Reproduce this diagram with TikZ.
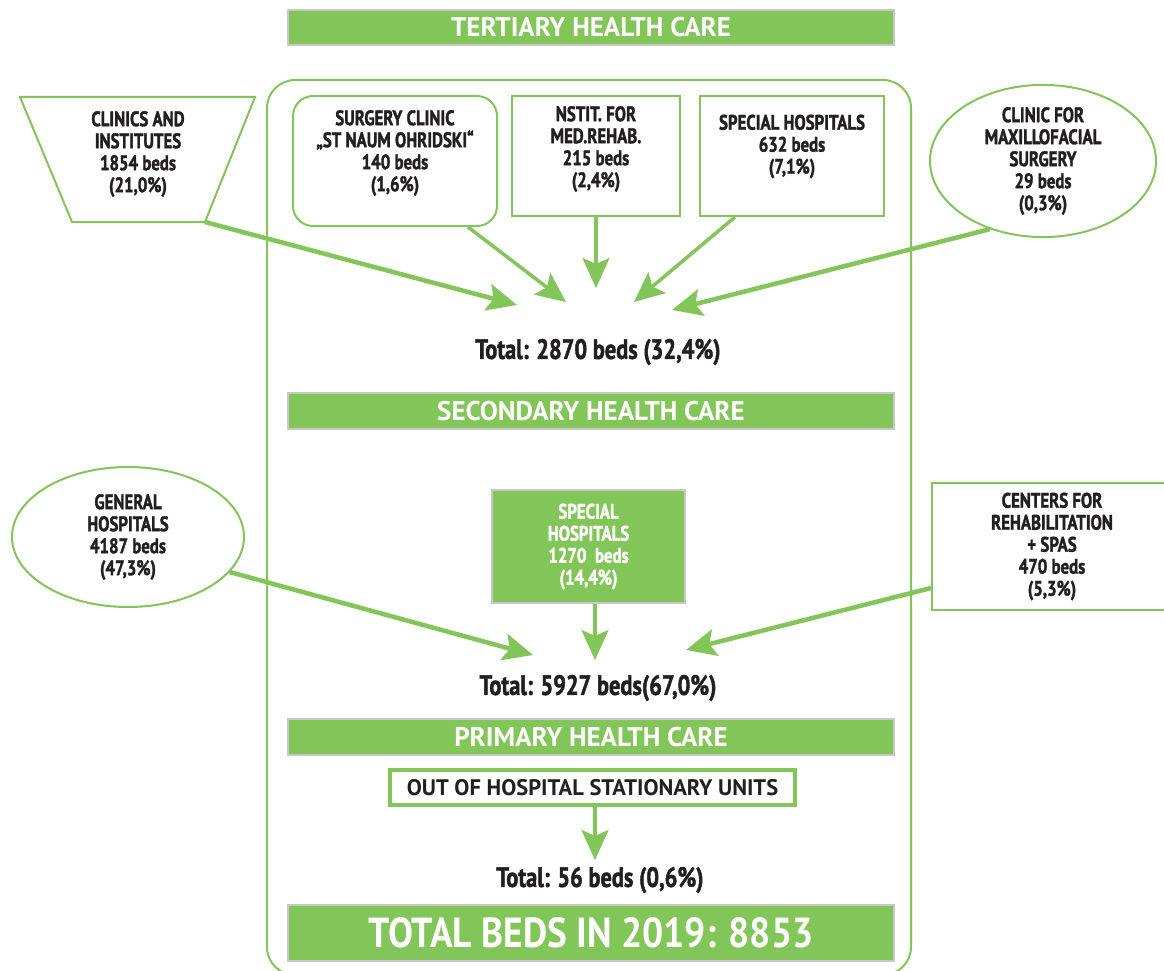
\documentclass[tikz,border=0pt]{standalone}
\usepackage{fontspec}
\setmainfont{PT Sans}
\newfontfamily\condf{PT Sans Bold}[FakeStretch=0.8,FakeBold=1.6]
\newfontfamily\boldf{PT Sans Bold}
\newfontfamily\totf{PT Sans Bold}[FakeStretch=0.89]
\usetikzlibrary{arrows.meta,shapes.geometric,calc}
\definecolor{hgreen}{RGB}{130,197,88}
\definecolor{hgray}{RGB}{200,200,200}
\definecolor{htext}{RGB}{35,31,32}
\begin{document}
\begin{tikzpicture}[x=1pt,y=-1pt,
  bar/.style={draw=hgray, line width=2, fill=hgreen, text=white, minimum width=606, inner sep=0, font=\boldf\fontsize{27}{30}\selectfont},
  gbox/.style={draw=hgreen, line width=2, fill=white, inner sep=0},
  lbl/.style={align=center, text=htext, font=\condf\fontsize{21}{22}\selectfont},
  arr/.style={draw=hgreen, line width=4.5, -{Stealth[length=30,width=27,inset=6]}},
  total/.style={text=htext, font=\condf\fontsize{28}{30}\selectfont}]
\useasboundingbox (0,0) rectangle (1164,971);
% frame
\node[draw=hgreen, line width=2, rounded corners=28, minimum width=644, minimum height=895, inner sep=0] (frame) at (589,527.5) {};
% bars
\node[bar, minimum height=35] (tert) at (591,27.5) {TERTIARY HEALTH CARE};
\node[bar, minimum height=36] (sec) at (591,411) {SECONDARY HEALTH CARE};
\node[bar, minimum height=36] (prim) at (591,737) {PRIMARY HEALTH CARE};
\node[bar, minimum height=56, font=\totf\fontsize{42}{48}\selectfont] (tot) at (591,932.5) {TOTAL BEDS IN 2019: 8853};
% tertiary level
\coordinate (clA) at (20,97);
\coordinate (clB) at (255,97);
\coordinate (clC) at (205,222);
\coordinate (clD) at (72,222);
\draw[hgreen, line width=2] (clA) -- (clB) -- (clC) -- (clD) -- cycle;
\node[lbl] (clin) at (138,154) {CLINICS AND\\INSTITUTES\\1854 beds\\(21,0\%)};
\node[gbox, rounded corners=20, minimum width=204, minimum height=130] (sc) at (395,161) {};
\node[lbl] (sct) at (395,153) {SURGERY CLINIC\\„ST NAUM OHRIDSKI“\\140 beds\\(1,6\%)};
\node[gbox, minimum width=168, minimum height=120] (ns) at (596,156) {};
\node[lbl] (nst) at (596,149) {NSTIT. FOR\\MED.REHAB.\\215 beds\\(2,4\%)};
\node[gbox, minimum width=184, minimum height=120] (sp) at (792,156) {};
\node[lbl] (spt) at (792,146.5) {SPECIAL HOSPITALS\\632 beds\\(7,1\%)};
\node[gbox, lbl, ellipse, minimum width=226, minimum height=140] (mx) at (1043,161) {CLINIC FOR\\MAXILLOFACIAL\\SURGERY\\29 beds\\(0,3\%)};
\node[total] (t1) at (598,352) {Total: 2870 beds (32,4\%)};
\coordinate (a1) at (517,305);
\coordinate (a2) at (566,302);
\coordinate (a3) at (596,288);
\coordinate (a4) at (634,302);
\coordinate (a5) at (672,310);
\draw[arr] (clC) -- (a1);
\draw[arr, line width=3.5] ($(sc.south)+(73,0)$) -- (a2);
\draw[arr, line width=3.5] (ns.south) -- (a3);
\draw[arr, line width=3.5] ($(sp.south west)+(36,0)$) -- (a4);
\draw[arr] (mx.-128) -- (a5);
% secondary level
\node[gbox, lbl, ellipse, minimum width=232, minimum height=140] (gh) at (128,537) {GENERAL\\HOSPITALS\\4187 beds\\(47,3\%)};
\node[draw=hgray, line width=2, fill=hgreen, minimum width=193, minimum height=113, inner sep=0, lbl, text=white] (sh) at (588.5,546.5) {SPECIAL\\HOSPITALS\\1270~~beds\\(14,4\%)};
\node[gbox, lbl, minimum width=240, minimum height=127] (cen) at (1052,546.5) {CENTERS FOR\\REHABILITATION\\+ SPAS\\470 beds\\(5,3\%)};
\node[total] (t2) at (598,688) {Total: 5927 beds(67,0\%)};
\coordinate (b1) at (533,655);
\coordinate (b2) at (595,660);
\coordinate (b3) at (686,650);
\draw[arr] (gh.-19) -- (b1);
\draw[arr, line width=3.5] (sh.south -| b2) -- (b2);
\draw[arr] ($(cen.south west)+(0,-23)$) -- (b3);
% primary level
\node[draw=hgreen, line width=4, fill=white, minimum width=405, minimum height=35, inner sep=0, text=htext, font=\boldf\fontsize{22.5}{24}\selectfont] (out) at (592.5,787.5) {OUT OF HOSPITAL STATIONARY UNITS};
\coordinate (c1) at (595,860);
\draw[arr, line width=3.5] (out.south -| c1) -- (c1);
\node[total] (t3) at (600,880) {Total: 56 beds (0,6\%)};
\end{tikzpicture}
\end{document}
